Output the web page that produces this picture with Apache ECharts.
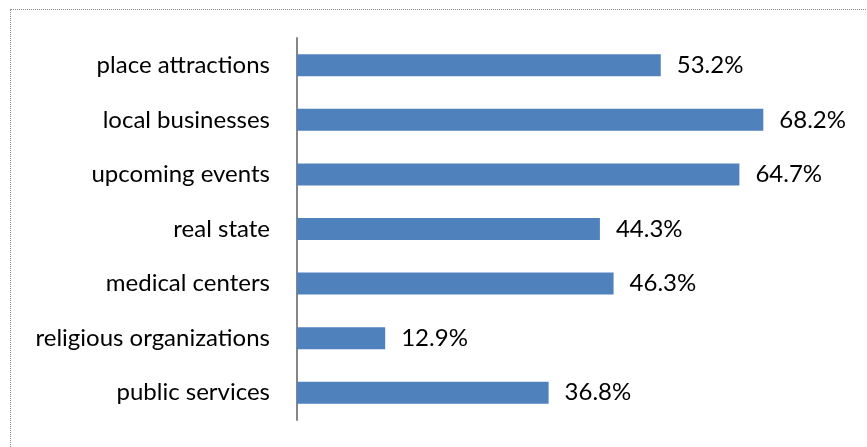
<!DOCTYPE html>
<html>
<head>
<meta charset="utf-8">
<script src="https://cdn.jsdelivr.net/npm/echarts@6/dist/echarts.min.js"></script>
<style>
  html, body { margin: 0; padding: 0; background: #fff; }
  #frame { position: absolute; left: 10px; top: 9px; width: 900px; height: 480px;
           border: 1px dotted #8c8c8c; box-sizing: border-box; }
  #chart { position: absolute; left: 0; top: 0; width: 867px; height: 447px; }
</style>
</head>
<body>
<div id="frame"></div>
<div id="chart"></div>
<script>
// Share of respondents interested in each kind of local information (%)
const categories = [
  'public services',
  'religious organizations',
  'medical centers',
  'real state',
  'upcoming events',
  'local businesses',
  'place attractions'
];
const shares = [36.8, 12.9, 46.3, 44.3, 64.7, 68.2, 53.2];

const chart = echarts.init(document.getElementById('chart'), null, { renderer: 'canvas' });
const textFont = 'Lato';

chart.setOption({
  animation: false,
  grid: { left: 297, top: 38, width: 547, height: 382, containLabel: false },
  xAxis: {
    type: 'value',
    min: 0,
    max: 80,
    show: false
  },
  yAxis: {
    type: 'category',
    data: categories,
    axisLine: { show: true, lineStyle: { color: '#868686', width: 2 } },
    axisTick: { show: false },
    axisLabel: {
      color: '#000',
      fontFamily: textFont,
      fontSize: 24,
      margin: 27
    }
  },
  series: [{
    type: 'bar',
    data: shares,
    barWidth: 22,
    itemStyle: { color: '#4f81bd' },
    label: {
      show: true,
      position: 'right',
      distance: 16,
      color: '#000',
      fontFamily: textFont,
      fontSize: 24,
      formatter: p => p.value.toFixed(1) + '%'
    }
  }]
});
</script>
</body>
</html>
